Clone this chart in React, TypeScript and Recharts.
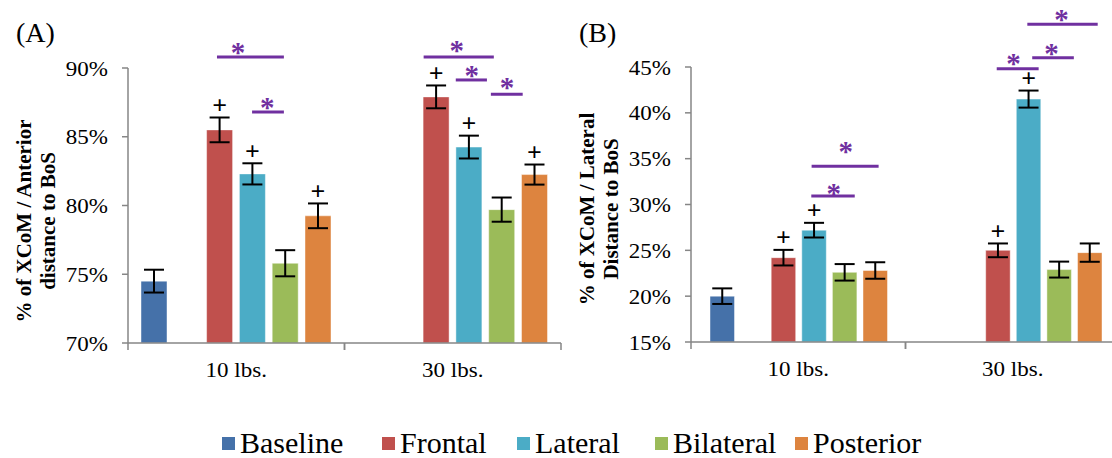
import { Bar, BarChart, ErrorBar, LabelList, XAxis, YAxis } from 'recharts'

const categories = ['10 lbs.', '30 lbs.']
const seriesNames = ['Baseline', 'Frontal', 'Lateral', 'Bilateral', 'Posterior']
const seriesKeys = ['baseline', 'frontal', 'lateral', 'bilateral', 'posterior']
const seriesColors = ['#4571A9', '#C0504D', '#4BACC6', '#9BBB59', '#DD843F']

// (A) % of XCoM / anterior distance to BoS
const antBaseline = [74.5, null]
const antFrontal = [85.5, 87.9]
const antLateral = [82.3, 84.25]
const antBilateral = [75.8, 79.7]
const antPosterior = [79.25, 82.25]
const antBaselineErr = [0.83, null]
const antFrontalErr = [0.9, 0.83]
const antLateralErr = [0.77, 0.83]
const antBilateralErr = [0.95, 0.88]
const antPosteriorErr = [0.9, 0.73]
const antMarks = { frontal: ['+', '+'], lateral: ['+', '+'], posterior: ['+', '+'] }
const antTicks = [70, 75, 80, 85, 90]
// significance bars: slot 0 = baseline, 2 = frontal ... 5 = posterior
const antSig = [
  { cat: 0, from: 1.92, to: 3.96, level: 90.8, star: 2.56, starLevel: 91.54 },
  { cat: 0, from: 2.99, to: 3.96, level: 86.8, star: 3.45, starLevel: 87.5 },
  { cat: 1, from: 1.62, to: 3.76, level: 90.8, star: 2.63, starLevel: 91.68 },
  { cat: 1, from: 2.6, to: 3.55, level: 89.13, star: 3.09, starLevel: 89.86 },
  { cat: 1, from: 3.67, to: 4.64, level: 88.1, star: 4.16, starLevel: 88.99 },
]

// (B) % of XCoM / lateral distance to BoS
const latBaseline = [20.0, null]
const latFrontal = [24.2, 25.0]
const latLateral = [27.2, 41.5]
const latBilateral = [22.6, 22.9]
const latPosterior = [22.8, 24.75]
const latBaselineErr = [0.85, null]
const latFrontalErr = [0.85, 0.75]
const latLateralErr = [0.8, 0.93]
const latBilateralErr = [0.9, 0.87]
const latPosteriorErr = [0.9, 1.0]
const latMarks = { frontal: ['+', '+'], lateral: ['+', '+'] }
const latTicks = [15, 20, 25, 30, 35, 40, 45]
const latSig = [
  { cat: 0, from: 2.92, to: 5.11, level: 34.17, star: 4.04, starLevel: 36.35 },
  { cat: 0, from: 2.91, to: 4.33, level: 30.93, star: 3.64, starLevel: 31.8 },
  { cat: 1, from: 1.96, to: 3.33, level: 44.82, star: 2.51, starLevel: 45.95 },
  { cat: 1, from: 3.12, to: 4.48, level: 46.0, star: 3.75, starLevel: 47.04 },
  { cat: 1, from: 2.96, to: 5.26, level: 49.66, star: 4.08, starLevel: 50.75 },
]

const SERIF = "'Liberation Serif', 'Times New Roman', serif"
const AXIS = '#868686'
const PURPLE = '#7030A0'
const legendLeft = [222, 382, 517, 655, 795]

type Sig = { cat: number; from: number; to: number; level: number; star: number; starLevel: number }

function buildRows(vals: (number | null)[][], errs: (number | null)[][]) {
  return categories.map((name, i) => {
    const row: any = { name, gap: null }
    seriesKeys.forEach((k, s) => {
      row[k] = vals[s][i]
      row[k + 'Err'] = errs[s][i]
    })
    return row
  })
}

const antRows = buildRows(
  [antBaseline, antFrontal, antLateral, antBilateral, antPosterior],
  [antBaselineErr, antFrontalErr, antLateralErr, antBilateralErr, antPosteriorErr],
)
const latRows = buildRows(
  [latBaseline, latFrontal, latLateral, latBilateral, latPosterior],
  [latBaselineErr, latFrontalErr, latLateralErr, latBilateralErr, latPosteriorErr],
)

type PanelProps = {
  left: number
  width: number
  top: number
  bottom: number
  yWidth: number
  right: number
  rows: any[]
  marks: Record<string, string[]>
  sig: Sig[]
  ticks: number[]
  barSize: number
  barGap: number
  title: string
  yLines: [string, string]
  yLabelCy: number
}

function Panel(p: PanelProps) {
  const min = p.ticks[0]
  const max = p.ticks[p.ticks.length - 1]
  const height = 458
  const xAxisH = 40
  const plotW = p.width - p.yWidth - p.right
  const halfBand = plotW / categories.length / 2
  const pitch = p.barSize + p.barGap

  const indexOf = (props: any, key: string) =>
    props.index ?? p.rows.findIndex((r) => r[key] === props.value)

  const markContent = (key: string) => (props: any) => {
    const i = indexOf(props, key)
    const m = p.marks[key]?.[i]
    const v = p.rows[i]?.[key]
    if (!m || v == null) return null
    const x = Number(props.x), y = Number(props.y), w = Number(props.width), h = Number(props.height)
    const ppu = h / (v - min)
    const e = p.rows[i][key + 'Err'] ?? 0
    const cy = y - e * ppu - 11
    return (
      <text x={x + w / 2} y={cy + 7.5} textAnchor="middle" fontFamily={SERIF} fontWeight="bold" fontSize={26} fill="#000">
        {m}
      </text>
    )
  }

  const sigContent = (props: any) => {
    const i = indexOf(props, 'frontal')
    const v = p.rows[i]?.frontal
    if (v == null) return null
    const x = Number(props.x), y = Number(props.y), w = Number(props.width), h = Number(props.height)
    const slot0 = x + w / 2 - 2 * pitch
    const bottom = y + h
    const ppu = h / (v - min)
    const Y = (val: number) => bottom - (val - min) * ppu
    return (
      <g>
        {p.sig
          .filter((s) => s.cat === i)
          .map((s, k) => (
            <g key={k}>
              <line
                x1={slot0 + s.from * pitch}
                x2={slot0 + s.to * pitch}
                y1={Y(s.level)}
                y2={Y(s.level)}
                stroke={PURPLE}
                strokeWidth={3}
              />
              <text
                x={slot0 + s.star * pitch}
                y={Y(s.starLevel) + 15}
                textAnchor="middle"
                fontFamily={SERIF}
                fontWeight="bold"
                fontSize={29}
                fill={PURPLE}
              >
                *
              </text>
            </g>
          ))}
      </g>
    )
  }

  const CatTick = (t: any) => (
    <g>
      <line x1={t.x - halfBand} x2={t.x - halfBand} y1={t.y} y2={t.y + 7} stroke={AXIS} strokeWidth={1.5} />
      <line x1={t.x + halfBand} x2={t.x + halfBand} y1={t.y} y2={t.y + 7} stroke={AXIS} strokeWidth={1.5} />
      <text
        transform={`translate(${t.x},${t.y + 34}) scale(1.15,1)`}
        textAnchor="middle"
        fontFamily={SERIF}
        fontSize={20}
        fill="#000"
      >
        {t.payload.value}
      </text>
    </g>
  )

  const ValTick = (t: any) => (
    <text
      transform={`translate(${t.x},${t.y + 7.5}) scale(1.15,1)`}
      textAnchor="end"
      fontFamily={SERIF}
      fontSize={20}
      fill="#000"
    >
      {`${t.payload.value}%`}
    </text>
  )

  const YLabel = () => {
    const axisX = p.yWidth
    return (
      <g fontFamily={SERIF} fontWeight="bold" fontSize={21} fill="#000">
        <text
          transform={`translate(${axisX - 104},${p.yLabelCy}) rotate(-90)`}
          textAnchor="middle"
          dominantBaseline="central"
        >
          {p.yLines[0]}
        </text>
        <text
          transform={`translate(${axisX - 80},${p.yLabelCy}) rotate(-90)`}
          textAnchor="middle"
          dominantBaseline="central"
        >
          {p.yLines[1]}
        </text>
      </g>
    )
  }

  const barKeys = ['baseline', 'gap', 'frontal', 'lateral', 'bilateral', 'posterior']

  return (
    <div style={{ position: 'absolute', left: p.left, top: 0, width: p.width, height }}>
      <BarChart
        width={p.width}
        height={height}
        data={p.rows}
        margin={{ top: p.top, right: p.right, bottom: p.bottom, left: 0 }}
        barSize={p.barSize}
        barGap={p.barGap}
      >
        <XAxis
          dataKey="name"
          height={xAxisH}
          axisLine={{ stroke: AXIS, strokeWidth: 1.5 }}
          tickLine={false}
          tickSize={0}
          tickMargin={0}
          tick={CatTick}
          interval={0}
        />
        <YAxis
          width={p.yWidth}
          domain={[min, max]}
          ticks={p.ticks}
          interval={0}
          allowDataOverflow
          axisLine={{ stroke: AXIS, strokeWidth: 1.5 }}
          tickLine={{ stroke: AXIS, strokeWidth: 1.5 }}
          tickSize={6}
          tickMargin={14}
          tick={ValTick}
          label={YLabel}
        />
        {barKeys.map((k) => {
          const s = seriesKeys.indexOf(k)
          const color = s >= 0 ? seriesColors[s] : 'transparent'
          return (
            <Bar
              key={k}
              dataKey={k}
              fill={color}
              stroke={s >= 0 ? '#ffffff' : 'none'}
              strokeOpacity={0.45}
              strokeWidth={1}
              isAnimationActive={false}
            >
              {s >= 0 && (
                <ErrorBar dataKey={k + 'Err'} width={10} strokeWidth={2} stroke="#000" direction="y" />
              )}
              {p.marks[k] && <LabelList dataKey={k} content={markContent(k)} />}
              {k === 'frontal' && <LabelList dataKey={k} content={sigContent} />}
            </Bar>
          )
        })}
        <text x={p.yWidth - 112} y={42} fontFamily={SERIF} fontSize={28} fill="#000">
          {p.title}
        </text>
      </BarChart>
    </div>
  )
}

export default function App() {
  return (
    <div
      style={{
        position: 'absolute',
        left: 0,
        top: 0,
        width: 1112,
        height: 458,
        overflow: 'hidden',
        background: '#fff',
      }}
    >
      <Panel
        left={0}
        width={580}
        top={68}
        bottom={75}
        yWidth={128}
        right={19}
        rows={antRows}
        marks={antMarks}
        sig={antSig}
        ticks={antTicks}
        barSize={26}
        barGap={6.8}
        title="(A)"
        yLines={['% of XCoM / Anterior', 'distance to BoS']}
        yLabelCy={221}
      />
      <Panel
        left={560}
        width={580}
        top={67}
        bottom={76}
        yWidth={131}
        right={20}
        rows={latRows}
        marks={latMarks}
        sig={latSig}
        ticks={latTicks}
        barSize={24.5}
        barGap={6.1}
        title="(B)"
        yLines={['% of XCoM / Lateral', 'Distance to BoS']}
        yLabelCy={209}
      />
      {seriesNames.map((n, i) => (
        <div
          key={n}
          style={{
            position: 'absolute',
            left: legendLeft[i],
            top: 426,
            height: 34,
            display: 'flex',
            alignItems: 'center',
            gap: 5,
            fontFamily: SERIF,
            fontSize: 30,
            lineHeight: '34px',
            color: '#000',
            whiteSpace: 'nowrap',
          }}
        >
          <span style={{ width: 13, height: 13, background: seriesColors[i], display: 'inline-block' }} />
          <span>{n}</span>
        </div>
      ))}
    </div>
  )
}
